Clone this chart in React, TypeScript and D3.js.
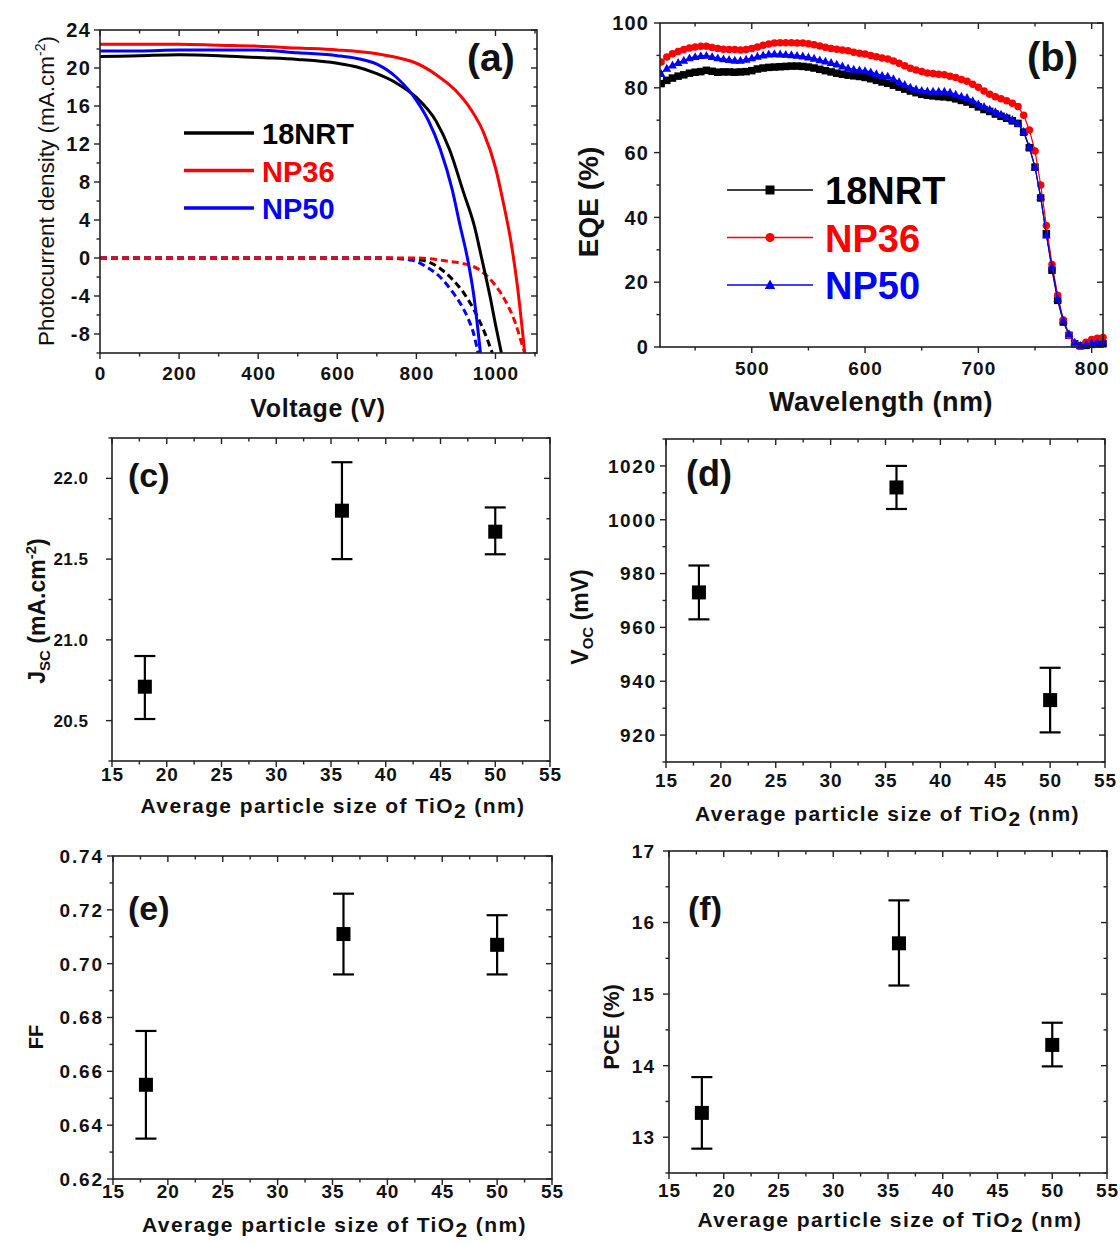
import React from 'react';
import * as d3 from 'd3';

const FONT = "'Liberation Sans', Arial, Helvetica, sans-serif";

// ---------- Panel (a): J-V curves ----------
const nrtLightV = [0, 100, 200, 300, 400, 500, 600, 650, 700, 750, 800, 850, 884, 920, 947, 965, 988, 1000, 1015];
const nrtLightJ = [21.2, 21.3, 21.4, 21.3, 21.1, 20.9, 20.5, 20.1, 19.4, 18.4, 16.9, 14.4, 11.4, 6.8, 3.3, 0.0, -4.4, -7.0, -10.0];
const np36LightV = [0, 100, 200, 300, 400, 500, 600, 700, 750, 800, 850, 900, 940, 970, 1000, 1020, 1040, 1055, 1074];
const np36LightJ = [22.5, 22.5, 22.5, 22.4, 22.3, 22.1, 21.9, 21.5, 21.1, 20.5, 19.3, 17.6, 15.5, 13.2, 9.5, 5.8, 1.5, -2.8, -10.0];
const np50LightV = [0, 100, 200, 300, 400, 500, 600, 650, 700, 750, 800, 830, 860, 890, 910, 930, 945, 962];
const np50LightJ = [21.8, 21.8, 21.9, 21.9, 21.9, 21.6, 21.3, 21.0, 20.4, 19.0, 16.6, 14.5, 11.5, 7.3, 3.5, -0.2, -3.9, -10.0];

const nrtDarkV = [0, 200, 400, 600, 700, 750, 800, 830, 860, 890, 920, 950, 970, 992];
const nrtDarkJ = [0, 0, 0, 0, 0, -0.05, -0.15, -0.4, -1.1, -2.2, -3.7, -5.8, -7.6, -10.0];
const np36DarkV = [0, 200, 400, 600, 800, 850, 880, 920, 960, 1000, 1030, 1050, 1065, 1074];
const np36DarkJ = [0, 0, 0, 0, 0, -0.15, -0.35, -0.6, -1.25, -2.9, -4.9, -6.8, -8.8, -10.0];
const np50DarkV = [0, 200, 400, 600, 700, 750, 790, 830, 860, 890, 910, 930, 945, 956];
const np50DarkJ = [0, 0, 0, 0, 0, -0.05, -0.25, -1.05, -2.0, -3.5, -4.7, -6.3, -8.0, -10.0];

const jvXTicks = [0, 200, 400, 600, 800, 1000];
const jvYTicks = [-8, -4, 0, 4, 8, 12, 16, 20, 24];

// ---------- Panel (b): EQE ----------
const eqeWavelengths = d3.range(420, 811, 5);
const eqeNRT = [
  81.3, 82.3, 83.0, 83.6, 84.0, 84.5, 84.8, 85.0, 85.4, 85.1,
  84.8, 84.9, 84.9, 84.8, 84.9, 85.0, 85.3, 85.8, 86.1, 86.3,
  86.4, 86.5, 86.6, 86.7, 86.7, 86.6, 86.4, 86.1, 85.7, 85.3,
  84.9, 84.5, 84.2, 83.9, 83.7, 83.5, 83.2, 82.8, 82.3, 81.8,
  81.4, 80.8, 80.2, 79.6, 79.0, 78.5, 78.0, 77.7, 77.5, 77.3,
  77.2, 77.0, 76.6, 76.1, 75.6, 74.9, 74.1, 73.3, 72.7, 71.9,
  71.2, 70.6, 69.8, 69.0, 66.3, 61.5, 55.5, 46.0, 35.0, 23.7,
  14.4, 7.7, 3.6, 1.0, 0.4, 0.5, 0.8, 1.0, 1.0,
];
const eqeNP36 = [
  88.0, 89.5, 90.5, 91.2, 91.8, 92.3, 92.6, 92.8, 92.8, 92.4,
  92.1, 91.9, 91.8, 91.8, 91.7, 91.8, 92.1, 92.6, 93.1, 93.5,
  93.8, 93.9, 93.9, 93.9, 93.8, 93.8, 93.6, 93.3, 92.9, 92.5,
  92.1, 91.9, 91.7, 91.4, 91.0, 90.7, 90.4, 90.0, 89.6, 89.2,
  88.9, 88.3, 87.6, 86.8, 86.0, 85.5, 85.0, 84.6, 84.4, 84.2,
  84.0, 83.6, 83.2, 82.6, 82.0, 81.1, 80.2, 79.0, 78.0, 77.2,
  76.6, 76.0, 75.2, 74.2, 71.5, 67.0, 60.5, 50.0, 37.5, 25.5,
  16.0, 8.3, 3.6, 1.0, 0.2, 1.5, 2.3, 2.7, 2.9,
];
const eqeNP50 = [
  84.4, 86.0, 87.0, 87.8, 88.5, 89.2, 89.6, 89.9, 90.0, 89.6,
  89.2, 88.9, 88.7, 88.5, 88.5, 88.8, 89.2, 89.7, 90.1, 90.4,
  90.5, 90.4, 90.3, 90.2, 90.0, 89.8, 89.5, 89.1, 88.6, 88.2,
  87.8, 87.3, 86.7, 86.1, 85.7, 85.5, 85.3, 84.9, 84.3, 83.8,
  83.6, 82.8, 81.9, 81.0, 80.2, 79.6, 79.2, 79.0, 78.9, 78.9,
  78.9, 78.6, 78.0, 77.4, 77.0, 76.0, 75.0, 74.2, 73.4, 72.6,
  71.8, 71.0, 70.2, 69.0, 66.5, 61.8, 55.5, 46.3, 34.5, 24.7,
  14.9, 8.2, 4.1, 1.5, 0.5, 0.8, 1.3, 1.5, 1.5,
];
const eqeXTicks = [500, 600, 700, 800];
const eqeYTicks = [0, 20, 40, 60, 80, 100];

// ---------- Panels (c)-(f): parameters vs particle size ----------
const particleSizes = [18, 36, 50];
const sizeTicks = [15, 20, 25, 30, 35, 40, 45, 50, 55];
const jscMean = [20.71, 21.8, 21.67];
const jscLow = [20.51, 21.5, 21.53];
const jscHigh = [20.9, 22.1, 21.82];
const jscTicks = [20.5, 21.0, 21.5, 22.0];
const vocMean = [973, 1012, 933];
const vocLow = [963, 1004, 921];
const vocHigh = [983, 1020, 945];
const vocTicks = [920, 940, 960, 980, 1000, 1020];
const ffMean = [0.655, 0.711, 0.707];
const ffLow = [0.635, 0.696, 0.696];
const ffHigh = [0.675, 0.726, 0.718];
const ffTicks = [0.62, 0.64, 0.66, 0.68, 0.7, 0.72, 0.74];
const pceMean = [13.34, 15.71, 14.29];
const pceLow = [12.84, 15.12, 13.99];
const pceHigh = [13.84, 16.31, 14.6];
const pceTicks = [13, 14, 15, 16, 17];

const seriesNames = ['18NRT', 'NP36', 'NP50'];
const seriesColors = ['#000000', '#ff0000', '#0000ff'];

type AxesProps = {
  x: d3.ScaleLinear<number, number>;
  y: d3.ScaleLinear<number, number>;
  xMajor: number[];
  xMinor: number[];
  yMajor: number[];
  yMinor: number[];
  xFmt: (v: number) => string;
  yFmt: (v: number) => string;
  xFont: number;
  yFont: number;
  xLabelY: number;
  yLabelX: number;
  ySpacing?: number;
};

function Axes(p: AxesProps) {
  const [x0, x1] = p.x.range();
  const [y0, y1] = p.y.range();
  const M = 6;
  const m = 3.5;
  const st = { stroke: '#222', strokeWidth: 1.4 };
  const ys = p.ySpacing ?? 1.2;
  return (
    <g>
      <rect x={x0} y={y1} width={x1 - x0} height={y0 - y1} fill="none" stroke="#222" strokeWidth={1.6} />
      {p.xMajor.map((v) => {
        const X = p.x(v);
        return (
          <g key={'xM' + v}>
            <line x1={X} x2={X} y1={y0} y2={y0 + M} {...st} />
            <line x1={X} x2={X} y1={y1} y2={y1 + M} {...st} />
            <text x={X + 0.5} y={p.xLabelY} textAnchor="middle" fontSize={p.xFont} fontWeight="bold" fontFamily={FONT} fill="#111" letterSpacing={1}>
              {p.xFmt(v)}
            </text>
          </g>
        );
      })}
      {p.xMinor.map((v) => {
        const X = p.x(v);
        return (
          <g key={'xm' + v}>
            <line x1={X} x2={X} y1={y0} y2={y0 + m} {...st} />
            <line x1={X} x2={X} y1={y1} y2={y1 + m} {...st} />
          </g>
        );
      })}
      {p.yMajor.map((v) => {
        const Y = p.y(v);
        return (
          <g key={'yM' + v}>
            <line x1={x0 - M} x2={x0} y1={Y} y2={Y} {...st} />
            <line x1={x1 - M} x2={x1} y1={Y} y2={Y} {...st} />
            <text x={p.yLabelX + ys} y={Y} dy="0.36em" textAnchor="end" fontSize={p.yFont} fontWeight="bold" fontFamily={FONT} fill="#111" letterSpacing={ys}>
              {p.yFmt(v)}
            </text>
          </g>
        );
      })}
      {p.yMinor.map((v) => {
        const Y = p.y(v);
        return (
          <g key={'ym' + v}>
            <line x1={x0 - m} x2={x0} y1={Y} y2={Y} {...st} />
            <line x1={x1 - m} x2={x1} y1={Y} y2={Y} {...st} />
          </g>
        );
      })}
    </g>
  );
}

function minorsBetween(lo: number, hi: number, step: number, majors: number[]) {
  const out: number[] = [];
  const n = Math.round((hi - lo) / step);
  for (let i = 0; i <= n; i++) {
    const v = +(lo + i * step).toFixed(6);
    if (!majors.some((mj) => Math.abs(mj - v) < 1e-9)) out.push(v);
  }
  return out;
}

type ScatterProps = {
  box: [number, number, number, number];
  yDomain: [number, number];
  yTicks: number[];
  yMinorStep: number;
  yFmt: (v: number) => string;
  mean: number[];
  low: number[];
  high: number[];
  xFont: number;
  yFont: number;
  ySpacing?: number;
  xLabelY: number;
  yLabelX: number;
  titleY: number;
  label: string;
  labelX: number;
  labelY: number;
  labelSize: number;
  yTitle: React.ReactNode;
};

function ScatterPanel(p: ScatterProps) {
  const [bx0, bx1, by1, by0] = p.box;
  const x = d3.scaleLinear().domain([15, 55]).range([bx0, bx1]);
  const y = d3.scaleLinear().domain(p.yDomain).range([by0, by1]);
  const xMinor = minorsBetween(15, 55, 2.5, sizeTicks);
  const yMinor = minorsBetween(p.yDomain[0], p.yDomain[1], p.yMinorStep, p.yTicks);
  const cx = (bx0 + bx1) / 2;
  return (
    <g>
      <Axes
        x={x}
        y={y}
        xMajor={sizeTicks}
        xMinor={xMinor}
        yMajor={p.yTicks}
        yMinor={yMinor}
        xFmt={(v) => String(v)}
        yFmt={p.yFmt}
        xFont={p.xFont}
        yFont={p.yFont}
        ySpacing={p.ySpacing}
        xLabelY={p.xLabelY}
        yLabelX={p.yLabelX}
      />
      {particleSizes.map((s, i) => {
        const X = x(s);
        return (
          <g key={s}>
            <line x1={X} x2={X} y1={y(p.low[i])} y2={y(p.high[i])} stroke="#000" strokeWidth={2.2} />
            <line x1={X - 10.5} x2={X + 10.5} y1={y(p.low[i])} y2={y(p.low[i])} stroke="#000" strokeWidth={2.2} />
            <line x1={X - 10.5} x2={X + 10.5} y1={y(p.high[i])} y2={y(p.high[i])} stroke="#000" strokeWidth={2.2} />
            <rect x={X - 7} y={y(p.mean[i]) - 7} width={14} height={14} fill="#000" />
          </g>
        );
      })}
      <text x={p.labelX} y={p.labelY} fontSize={p.labelSize} fontWeight="bold" fontFamily={FONT} fill="#111">
        {p.label}
      </text>
      <text x={cx + 2} y={p.titleY} textAnchor="middle" fontSize={21} fontWeight="bold" fontFamily={FONT} fill="#111" letterSpacing={1.4}>
        Average particle size of TiO
        <tspan dy={5}>2</tspan>
        <tspan dy={-5}> (nm)</tspan>
      </text>
      {p.yTitle}
    </g>
  );
}

export default function App() {
  // Panel (a)
  const ax = d3.scaleLinear().domain([0, 1105]).range([100, 537]);
  const ay = d3.scaleLinear().domain([-10, 24]).range([353, 30]);
  const jvLine = d3
    .line<[number, number]>()
    .x((d) => ax(d[0]))
    .y((d) => ay(d[1]))
    .curve(d3.curveMonotoneX);
  const zip = (a: number[], b: number[]) => a.map((v, i) => [v, b[i]] as [number, number]);
  const lightCurves = [zip(nrtLightV, nrtLightJ), zip(np36LightV, np36LightJ), zip(np50LightV, np50LightJ)];
  const darkCurves = [zip(nrtDarkV, nrtDarkJ), zip(np36DarkV, np36DarkJ), zip(np50DarkV, np50DarkJ)];

  // Panel (b)
  const bx = d3.scaleLinear().domain([419, 810]).range([660, 1103]);
  const by = d3.scaleLinear().domain([0, 100]).range([347, 23]);
  const eqeLine = d3
    .line<number>()
    .x((_, i) => bx(eqeWavelengths[i]))
    .y((d) => by(d));
  const eqeSeries = [eqeNRT, eqeNP36, eqeNP50];

  const marker = (k: number, X: number, Y: number, s: number, key: string) => {
    if (k === 0) return <rect key={key} x={X - s / 2} y={Y - s / 2} width={s} height={s} fill={seriesColors[0]} />;
    if (k === 1) return <circle key={key} cx={X} cy={Y} r={s / 2} fill={seriesColors[1]} />;
    const h = s * 1.0;
    return (
      <path
        key={key}
        d={`M${X},${Y - h * 0.6}L${X + s * 0.58},${Y + h * 0.45}L${X - s * 0.58},${Y + h * 0.45}Z`}
        fill={seriesColors[2]}
      />
    );
  };

  return (
    <svg width={1120} height={1244} style={{ position: 'absolute', left: 0, top: 0, background: '#fff' }}>
      <defs>
        <clipPath id="clipA">
          <rect x={100} y={30} width={437} height={323} />
        </clipPath>
        <clipPath id="clipB">
          <rect x={660} y={18} width={448} height={332} />
        </clipPath>
      </defs>
      <rect x={0} y={0} width={1120} height={1244} fill="#fff" />

      {/* ---------- (a) ---------- */}
      <g clipPath="url(#clipA)">
        {[0, 2, 1].map((k) => (
          <path
            key={'d' + k}
            d={jvLine(darkCurves[k]) || ''}
            fill="none"
            stroke={seriesColors[k]}
            strokeWidth={3}
            strokeDasharray="7,4"
          />
        ))}
        {[0, 1, 2].map((k) => (
          <path key={'l' + k} d={jvLine(lightCurves[k]) || ''} fill="none" stroke={seriesColors[k]} strokeWidth={3} />
        ))}
      </g>
      <Axes
        x={ax}
        y={ay}
        xMajor={jvXTicks}
        xMinor={[100, 300, 500, 700, 900, 1100]}
        yMajor={jvYTicks}
        yMinor={[-10, -6, -2, 2, 6, 10, 14, 18, 22]}
        xFmt={(v) => String(v)}
        yFmt={(v) => String(v)}
        xFont={19}
        yFont={20}
        ySpacing={1.5}
        xLabelY={380}
        yLabelX={90}
      />
      {seriesNames.map((n, i) => (
        <g key={'la' + n}>
          <line x1={184} x2={254} y1={133 + i * 37.5} y2={133 + i * 37.5} stroke={seriesColors[i]} strokeWidth={3.5} />
          <text x={262} y={144 + i * 37.5} fontSize={29} fontWeight="bold" fontFamily={FONT} fill={seriesColors[i]}>
            {n}
          </text>
        </g>
      ))}
      <text x={467} y={71} fontSize={39} fontWeight="bold" fontFamily={FONT} fill="#111">
        (a)
      </text>
      <text x={318} y={417} textAnchor="middle" fontSize={25} fontWeight="bold" fontFamily={FONT} fill="#111" letterSpacing={0.6}>
        Voltage (V)
      </text>
      <text
        transform="translate(54,191) rotate(-90)"
        textAnchor="middle"
        fontSize={22.5}
        fontFamily={FONT}
        fill="#111"
      >
        Photocurrent density (mA.cm
        <tspan fontSize={14} dy={-9}>-2</tspan>
        <tspan dy={9}>)</tspan>
      </text>

      {/* ---------- (b) ---------- */}
      <g clipPath="url(#clipB)">
        {[0, 1, 2].map((k) => (
          <g key={'e' + k}>
            <path d={eqeLine(eqeSeries[k]) || ''} fill="none" stroke={seriesColors[k]} strokeWidth={1.2} />
            {eqeSeries[k].map((v, i) => marker(k, bx(eqeWavelengths[i]), by(v), 7.5, 'm' + k + '-' + i))}
          </g>
        ))}
      </g>
      <Axes
        x={bx}
        y={by}
        xMajor={eqeXTicks}
        xMinor={[450, 550, 650, 750]}
        yMajor={eqeYTicks}
        yMinor={[10, 30, 50, 70, 90]}
        xFmt={(v) => String(v)}
        yFmt={(v) => String(v)}
        xFont={19}
        yFont={20}
        ySpacing={1.2}
        xLabelY={375}
        yLabelX={648}
      />
      {seriesNames.map((n, i) => (
        <g key={'lb' + n}>
          <line x1={727} x2={813} y1={190 + i * 47.5} y2={190 + i * 47.5} stroke={seriesColors[i]} strokeWidth={1.4} />
          {marker(i, 770, 190 + i * 47.5, 9, 'lm' + i)}
          <text x={825} y={204 + i * 47.5} fontSize={38} fontWeight="bold" fontFamily={FONT} fill={seriesColors[i]}>
            {n}
          </text>
        </g>
      ))}
      <text x={1027} y={71} fontSize={40} fontWeight="bold" fontFamily={FONT} fill="#111">
        (b)
      </text>
      <text x={881} y={411} textAnchor="middle" fontSize={27} fontWeight="bold" fontFamily={FONT} fill="#111" letterSpacing={0.5}>
        Wavelength (nm)
      </text>
      <text transform="translate(598,202) rotate(-90)" textAnchor="middle" fontSize={28} fontWeight="bold" fontFamily={FONT} fill="#111">
        EQE (%)
      </text>

      {/* ---------- (c) ---------- */}
      <ScatterPanel
        box={[112, 550, 438, 761]}
        yDomain={[20.25, 22.25]}
        yTicks={jscTicks}
        yMinorStep={0.25}
        yFmt={(v) => v.toFixed(1)}
        mean={jscMean}
        low={jscLow}
        high={jscHigh}
        xFont={19}
        yFont={17}
        ySpacing={0.5}
        xLabelY={781}
        yLabelX={88}
        titleY={813}
        label="(c)"
        labelX={128}
        labelY={487}
        labelSize={34}
        yTitle={
          <text transform="translate(45,611) rotate(-90)" textAnchor="middle" fontSize={23} fontWeight="bold" fontFamily={FONT} fill="#111">
            J<tspan fontSize={15} dy={5}>SC</tspan>
            <tspan dy={-5}> (mA.cm</tspan>
            <tspan fontSize={15} dy={-9}>-2</tspan>
            <tspan dy={9}>)</tspan>
          </text>
        }
      />

      {/* ---------- (d) ---------- */}
      <ScatterPanel
        box={[666, 1105, 439, 762]}
        yDomain={[910, 1030]}
        yTicks={vocTicks}
        yMinorStep={10}
        yFmt={(v) => String(v)}
        mean={vocMean}
        low={vocLow}
        high={vocHigh}
        xFont={19}
        yFont={19}
        ySpacing={1.6}
        xLabelY={787}
        yLabelX={655}
        titleY={821}
        label="(d)"
        labelX={686}
        labelY={486}
        labelSize={36}
        yTitle={
          <text transform="translate(588,617) rotate(-90)" textAnchor="middle" fontSize={23} fontWeight="bold" fontFamily={FONT} fill="#111">
            V<tspan fontSize={15} dy={5}>OC</tspan>
            <tspan dy={-5}> (mV)</tspan>
          </text>
        }
      />

      {/* ---------- (e) ---------- */}
      <ScatterPanel
        box={[113, 552, 856, 1179]}
        yDomain={[0.62, 0.74]}
        yTicks={ffTicks}
        yMinorStep={0.01}
        yFmt={(v) => v.toFixed(2)}
        mean={ffMean}
        low={ffLow}
        high={ffHigh}
        xFont={19}
        yFont={19}
        ySpacing={1.8}
        xLabelY={1198}
        yLabelX={102}
        titleY={1232}
        label="(e)"
        labelX={128}
        labelY={920}
        labelSize={34}
        yTitle={
          <text transform="translate(43,1037) rotate(-90)" textAnchor="middle" fontSize={20} fontWeight="bold" fontFamily={FONT} fill="#111">
            FF
          </text>
        }
      />

      {/* ---------- (f) ---------- */}
      <ScatterPanel
        box={[669, 1107, 851, 1173]}
        yDomain={[12.5, 17]}
        yTicks={pceTicks}
        yMinorStep={0.5}
        yFmt={(v) => String(v)}
        mean={pceMean}
        low={pceLow}
        high={pceHigh}
        xFont={19}
        yFont={19}
        ySpacing={1}
        xLabelY={1197}
        yLabelX={654}
        titleY={1227}
        label="(f)"
        labelX={688}
        labelY={920}
        labelSize={34}
        yTitle={
          <text transform="translate(619,1027) rotate(-90)" textAnchor="middle" fontSize={22} fontWeight="bold" fontFamily={FONT} fill="#111">
            PCE (%)
          </text>
        }
      />
    </svg>
  );
}
